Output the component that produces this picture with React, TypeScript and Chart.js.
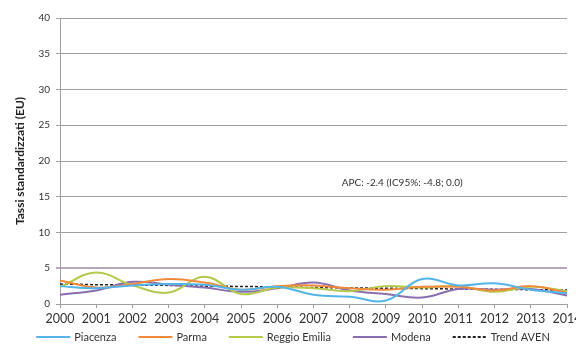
import React, { useEffect, useRef } from "react";
import { Chart, registerables } from "chart.js";

Chart.register(...registerables);

const years = ["2000", "2001", "2002", "2003", "2004", "2005", "2006", "2007", "2008", "2009", "2010", "2011", "2012", "2013", "2014"];
const piacenza = [2.5, 2.2, 2.6, 2.8, 2.7, 2.0, 2.4, 1.3, 1.0, 0.5, 3.5, 2.6, 2.9, 2.0, 1.5];
const parma = [3.3, 2.3, 2.8, 3.5, 3.0, 2.0, 2.5, 2.6, 2.2, 2.0, 2.4, 2.4, 1.9, 2.5, 1.6];
const reggioEmilia = [2.4, 4.4, 2.6, 1.6, 3.8, 1.4, 2.3, 2.2, 1.8, 2.5, 2.3, 2.5, 1.7, 2.4, 1.8];
const modena = [1.3, 1.9, 3.1, 2.7, 2.3, 1.7, 2.2, 3.0, 1.9, 1.4, 0.9, 2.1, 2.0, 2.1, 1.2];
const trendAven = [2.8, 2.7, 2.65, 2.6, 2.5, 2.45, 2.4, 2.3, 2.25, 2.2, 2.15, 2.1, 2.05, 2.0, 1.95];
const seriesNames = ["Piacenza", "Parma", "Reggio Emilia", "Modena", "Trend AVEN"];
const yTitle = "Tassi standardizzati (EU)";
const apcText = "APC: -2.4 (IC95%: -4.8; 0.0)";

const FONT = "Lato, 'DejaVu Sans', sans-serif";

const annotationPlugin = {
  id: "apcText",
  afterDatasetsDraw(chart: any) {
    const { ctx, scales } = chart;
    const x = scales.x.getPixelForValue(9.45);
    const y = scales.y.getPixelForValue(17);
    ctx.save();
    ctx.font = `10px ${FONT}`;
    ctx.fillStyle = "#333";
    ctx.textAlign = "center";
    ctx.textBaseline = "middle";
    ctx.fillText(apcText, x, y);
    ctx.restore();
  },
};

const legendPlugin = {
  id: "customLegend",
  afterDraw(chart: any) {
    const { ctx } = chart;
    const lineLen = 34;
    const gap = 4;
    const spacing = 22;
    const cy = 337;
    ctx.save();
    ctx.font = `11px ${FONT}`;
    const items = chart.data.datasets.map((d: any) => ({
      label: d.label,
      color: d.borderColor,
      dash: d.borderDash || [],
      w: ctx.measureText(d.label).width,
    }));
    const total = items.reduce((s: number, it: any) => s + lineLen + gap + it.w, 0) + spacing * (items.length - 1);
    let x = 293 - total / 2;
    for (const it of items) {
      ctx.beginPath();
      ctx.setLineDash(it.dash);
      ctx.strokeStyle = it.color;
      ctx.lineWidth = 2;
      ctx.moveTo(x, cy);
      ctx.lineTo(x + lineLen, cy);
      ctx.stroke();
      ctx.setLineDash([]);
      ctx.fillStyle = "#333";
      ctx.textBaseline = "middle";
      ctx.textAlign = "left";
      ctx.fillText(it.label, x + lineLen + gap, cy);
      x += lineLen + gap + it.w + spacing;
    }
    ctx.restore();
  },
};

export default function App() {
  const ref = useRef<HTMLCanvasElement | null>(null);
  useEffect(() => {
    if (!ref.current) return;
    const mk = (label: string, data: number[], color: string, dash?: number[]) => ({
      label,
      data,
      borderColor: color,
      backgroundColor: color,
      borderWidth: dash ? 1.5 : 2,
      borderDash: dash,
      tension: dash ? 0 : 0.4,
      pointRadius: 0,
      fill: false,
    });
    const chart = new Chart(ref.current, {
      type: "line",
      data: {
        labels: years,
        datasets: [
          mk(seriesNames[0], piacenza, "#55b5ea"),
          mk(seriesNames[1], parma, "#f08a3c"),
          mk(seriesNames[2], reggioEmilia, "#b4ca4c"),
          mk(seriesNames[3], modena, "#8a6eb0"),
          mk(seriesNames[4], trendAven, "#222222", [3, 2]),
        ],
      },
      options: {
        responsive: false,
        animation: false,
        layout: { padding: { top: 18, right: 33, bottom: 20, left: 13 } },
        plugins: { legend: { display: false }, tooltip: { enabled: false } },
        scales: {
          x: {
            offset: false,
            grid: { drawOnChartArea: false, drawTicks: true, tickLength: 4, color: "#a0a0a0" },
            border: { color: "#a0a0a0", width: 1 },
            ticks: { font: { family: FONT, size: 12.5 }, color: "#333", maxRotation: 0, autoSkip: false, padding: 3 },
            afterFit: (s: any) => { s.height = 20; },
          },
          y: {
            min: 0,
            max: 40,
            ticks: { stepSize: 5, font: { family: FONT, size: 10 }, color: "#333", padding: 6 },
            grid: {
              color: (c: any) => (c.tick && c.tick.value === 5 ? "#b5a8bd" : "#a0a0a0"),
              lineWidth: (c: any) => (c.tick && c.tick.value === 5 ? 2 : 1),
              tickLength: 4,
            },
            border: { color: "#a0a0a0", width: 1 },
            title: { display: true, text: yTitle, font: { family: FONT, size: 12, weight: "bold" }, color: "#222", padding: 0 },
            afterFit: (s: any) => { s.width = 47; },
          },
        },
      },
      plugins: [annotationPlugin, legendPlugin],
    } as any);
    return () => chart.destroy();
  }, []);
  return (
    <div style={{ position: "absolute", left: 0, top: 0, width: 576, height: 344, overflow: "hidden", background: "#fff" }}>
      <canvas ref={ref} width={600} height={344} style={{ display: "block" }} />
    </div>
  );
}
